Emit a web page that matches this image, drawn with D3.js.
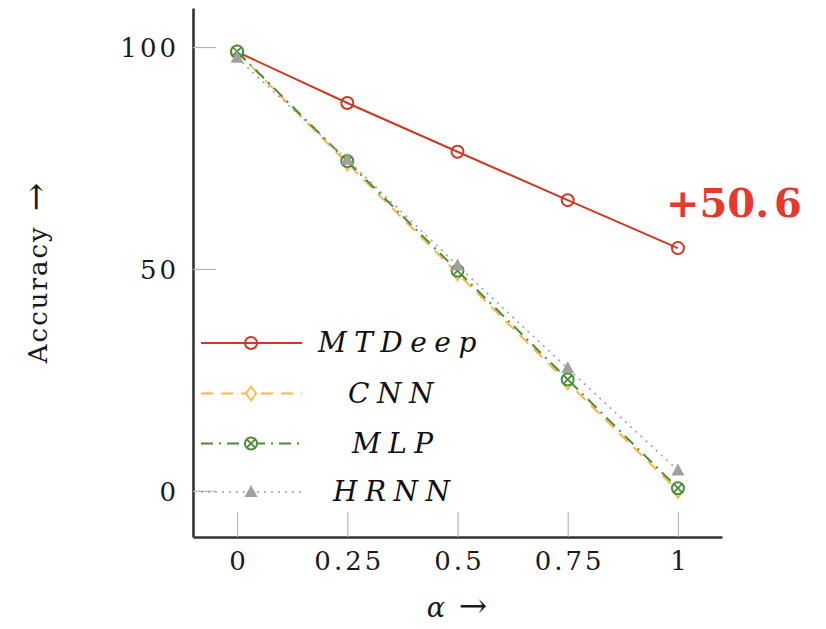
<!DOCTYPE html>
<html>
<head>
<meta charset="utf-8">
<script src="https://cdn.jsdelivr.net/npm/d3@7"></script>
<style>
  body { margin: 0; background: #fff; }
  text { font-family: "DejaVu Serif", serif; }
</style>
</head>
<body>
<div id="chart"></div>
<script>
// Data
const alphas = [0, 0.25, 0.5, 0.75, 1];
const mtdeep = [98.9, 87.4, 76.4, 65.5, 54.7];
const cnn = [98.9, 73.8, 49.0, 24.4, 0.0];
const mlp = [99.0, 74.3, 49.6, 25.1, 0.6];
const hrnn = [97.6, 74.6, 50.8, 27.6, 4.6];
const seriesNames = ["MTDeep", "CNN", "MLP", "HRNN"];
const xTicks = [0, 0.25, 0.5, 0.75, 1];
const yTicks = [0, 50, 100];
const gainLabel = "+50.6";

const W = 826, H = 629;
const svg = d3.select("#chart").append("svg")
    .attr("width", W).attr("height", H);

const x = d3.scaleLinear().domain([-0.1, 1.1]).range([193, 722]);
const y = d3.scaleLinear().domain([-10.4, 108.8]).range([537, 8]);

const styles = {
    MTDeep: { color: "#cc3a23", dash: null, marker: "circle", width: 2 },
    CNN: { color: "#ffb449", dash: "12,8", marker: "diamond", width: 2 },
    MLP: { color: "#4a8c37", dash: "12,6,2,6", marker: "otimes", width: 2 },
    HRNN: { color: "#a0a0a0", dash: "2,5", marker: "triangle", width: 1.6 }
};
const values = { MTDeep: mtdeep, CNN: cnn, MLP: mlp, HRNN: hrnn };

// Axes
const xAxis = svg.append("g")
    .attr("transform", `translate(0,${y.range()[0]})`)
    .call(d3.axisBottom(x).tickValues(xTicks).tickSize(-25).tickSizeOuter(0)
        .tickPadding(15).tickFormat(d => String(d)));
const yAxis = svg.append("g")
    .attr("transform", `translate(${x.range()[0]},0)`)
    .call(d3.axisLeft(y).tickValues(yTicks).tickSize(-23).tickSizeOuter(0)
        .tickPadding(14));

[xAxis, yAxis].forEach(a => {
    a.select(".domain").attr("stroke", "#333").attr("stroke-width", 2.6);
    a.selectAll(".tick line").attr("stroke", "#b5b5b5").attr("stroke-width", 1.2);
    a.selectAll(".tick text")
        .style("font-family", "DejaVu Serif")
        .style("font-size", "26px")
        .style("letter-spacing", "3px")
        .attr("fill", "#1a1a1a");
});
xAxis.selectAll(".tick text").attr("dx", 1.5);
yAxis.selectAll(".tick text").attr("dy", "0.36em");

// Markers
function drawMarker(g, type, color, cx, cy) {
    if (type === "circle") {
        g.append("circle").attr("cx", cx).attr("cy", cy).attr("r", 6)
            .attr("fill", "none").attr("stroke", color).attr("stroke-width", 2);
    } else if (type === "diamond") {
        g.append("path")
            .attr("d", `M${cx},${cy - 7}L${cx + 5},${cy}L${cx},${cy + 7}L${cx - 5},${cy}Z`)
            .attr("fill", "#fff").attr("stroke", color).attr("stroke-width", 1.8);
    } else if (type === "otimes") {
        g.append("circle").attr("cx", cx).attr("cy", cy).attr("r", 6)
            .attr("fill", "#fff").attr("stroke", color).attr("stroke-width", 2);
        const k = 4.2;
        g.append("path")
            .attr("d", `M${cx - k},${cy - k}L${cx + k},${cy + k}M${cx - k},${cy + k}L${cx + k},${cy - k}`)
            .attr("stroke", color).attr("stroke-width", 1.8);
    } else if (type === "triangle") {
        g.append("path")
            .attr("d", `M${cx},${cy - 7}L${cx + 6.5},${cy + 5}L${cx - 6.5},${cy + 5}Z`)
            .attr("fill", color);
    }
}

const line = d3.line().x(d => x(d[0])).y(d => y(d[1]));

seriesNames.forEach(name => {
    const s = styles[name];
    const pts = alphas.map((a, i) => [a, values[name][i]]);
    const g = svg.append("g");
    g.append("path").datum(pts).attr("d", line)
        .attr("fill", "none").attr("stroke", s.color)
        .attr("stroke-width", s.width)
        .attr("stroke-dasharray", s.dash);
    pts.forEach(p => drawMarker(g, s.marker, s.color, x(p[0]), y(p[1])));
});

// Legend
const legendY = [343, 393.5, 443.5, 492];
const legendTextX = [318, 348, 352, 333];
seriesNames.forEach((name, i) => {
    const s = styles[name];
    const g = svg.append("g");
    g.append("line").attr("x1", 201).attr("x2", 302)
        .attr("y1", legendY[i]).attr("y2", legendY[i])
        .attr("stroke", s.color).attr("stroke-width", s.width)
        .attr("stroke-dasharray", s.dash);
    drawMarker(g, s.marker, s.color, 251, legendY[i]);
    g.append("text").attr("x", legendTextX[i]).attr("y", legendY[i] + 9)
        .style("font-family", "DejaVu Serif")
        .style("font-style", "italic")
        .style("font-size", "28px")
        .style("letter-spacing", "7.5px")
        .attr("fill", "#111")
        .text(name);
});

// Axis labels
const yLabel = svg.append("text")
    .attr("transform", "translate(47,272) rotate(-90)")
    .attr("text-anchor", "middle")
    .style("font-size", "26px")
    .style("letter-spacing", "2px")
    .attr("fill", "#1a1a1a");
yLabel.append("tspan").text("Accuracy");
yLabel.append("tspan").attr("dx", 14).style("font-size", "34px").text("→");

const xLabel = svg.append("text")
    .attr("x", 457).attr("y", 617)
    .attr("text-anchor", "middle")
    .style("font-size", "27px")
    .attr("fill", "#1a1a1a");
xLabel.append("tspan").style("font-style", "italic").text("α");
xLabel.append("tspan").attr("dx", 14).style("font-size", "34px").text("→");

// Gain annotation
const gain = svg.append("text")
    .attr("x", 666).attr("y", 217)
    .style("font-family", "DejaVu Serif")
    .style("font-weight", "bold")
    .style("font-size", "40px")
    .attr("fill", "#e6382e");
gain.append("tspan").text(gainLabel.slice(0, 4));
gain.append("tspan").attr("dx", 5).text(gainLabel.slice(4));
</script>
</body>
</html>
